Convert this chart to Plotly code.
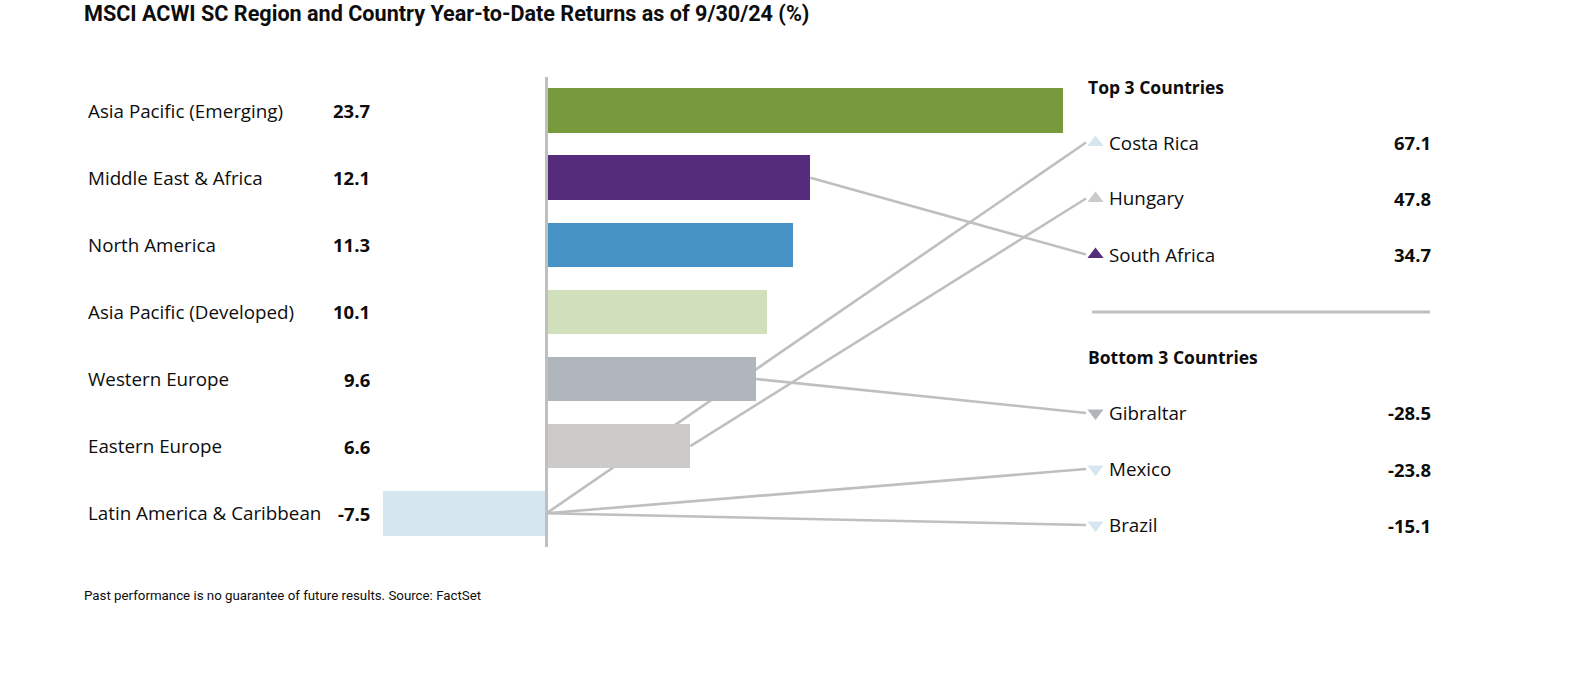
import plotly.graph_objects as go

# ---------------- data ----------------
regions = ["Asia Pacific (Emerging)", "Middle East & Africa", "North America",
           "Asia Pacific (Developed)", "Western Europe", "Eastern Europe",
           "Latin America & Caribbean"]
region_returns = [23.7, 12.1, 11.3, 10.1, 9.6, 6.6, -7.5]
region_colors = ["#789a3d", "#552c7b", "#4793c6", "#d1dfbd", "#b1b5bc", "#cccbca", "#d5e6f0"]

top_countries = ["Costa Rica", "Hungary", "South Africa"]
top_returns = [67.1, 47.8, 34.7]
top_regions = ["Latin America & Caribbean", "Eastern Europe", "Middle East & Africa"]

bottom_countries = ["Gibraltar", "Mexico", "Brazil"]
bottom_returns = [-28.5, -23.8, -15.1]
bottom_regions = ["Western Europe", "Latin America & Caribbean", "Latin America & Caribbean"]

title_text = "MSCI ACWI SC Region and Country Year-to-Date Returns as of 9/30/24 (%)"
footnote_text = "Past performance is no guarantee of future results. Source: FactSet"

# ---------------- layout constants (pixels) ----------------
W, H = 1584, 676
ZERO_PX = 546.5
PX_PER_UNIT = 21.8
ROW0_PX = 110.5
ROW_STEP = 67.13
BAR_FRAC = 0.663

FONT = "Open Sans"
REG_SIZE = 18.8
VAL_SIZE = 18.5
LABEL_X = 86
VALUE_X = 372
PANEL_X = 1086
TRI_X = 1095.5
NAME_X = 1107
PVAL_X = 1433
LINE_END_X = 1086
TOP_HEAD_Y = 87
TOP_ROW_Y = 142.5
BOT_HEAD_Y = 357
BOT_ROW_Y = 413
PANEL_STEP = 56
SEP_Y = 312
GREY = "#bfbfbf"
INK = "#0d0d0d"


def xd(px):
    return (px - ZERO_PX) / PX_PER_UNIT


def yd(py):
    return (py - ROW0_PX) / ROW_STEP


def xp(px):
    return px / W


def yp(py):
    return 1 - py / H


rows = list(range(len(regions)))
row_of = {r: i for i, r in enumerate(regions)}
color_of = dict(zip(regions, region_colors))

fig = go.Figure()

fig.add_trace(go.Bar(
    x=region_returns, y=rows, orientation="h", width=BAR_FRAC,
    marker=dict(color=region_colors, line=dict(width=0)),
    hoverinfo="skip", showlegend=False,
))

shapes = []
annotations = []

# zero axis line
shapes.append(dict(type="line", xref="x", yref="paper", x0=0, x1=0,
                   y0=yp(77), y1=yp(547), line=dict(color=GREY, width=3), layer="above"))

# left labels
for i, (name, val) in enumerate(zip(regions, region_returns)):
    annotations.append(dict(xref="paper", yref="y", x=xp(LABEL_X), y=i, text=name,
                            showarrow=False, xanchor="left", yanchor="middle",
                            font=dict(family=FONT, size=REG_SIZE, color=INK)))
    annotations.append(dict(xref="paper", yref="y", x=xp(VALUE_X), y=i,
                            text="<b>%.1f</b>" % val,
                            showarrow=False, xanchor="right", yanchor="middle",
                            font=dict(family=FONT, size=VAL_SIZE, color=INK)))


def panel(countries, values, regs, head, head_y, row_y, symbol):
    annotations.append(dict(xref="paper", yref="paper", x=xp(PANEL_X), y=yp(head_y),
                            text="<b>%s</b>" % head, showarrow=False,
                            xanchor="left", yanchor="middle",
                            font=dict(family=FONT, size=17.5, color=INK)))
    tx, ty, tc = [], [], []
    for k, (c, v, r) in enumerate(zip(countries, values, regs)):
        py = row_y + k * PANEL_STEP
        annotations.append(dict(xref="paper", yref="paper", x=xp(NAME_X), y=yp(py),
                                text=c, showarrow=False, xanchor="left", yanchor="middle",
                                font=dict(family=FONT, size=REG_SIZE, color=INK)))
        annotations.append(dict(xref="paper", yref="paper", x=xp(PVAL_X), y=yp(py),
                                text="<b>%.1f</b>" % v, showarrow=False,
                                xanchor="right", yanchor="middle",
                                font=dict(family=FONT, size=VAL_SIZE, color=INK)))
        i = row_of[r]
        start = max(region_returns[i], 0)
        shapes.append(dict(type="line", xref="x", yref="y", x0=start, y0=i,
                           x1=xd(LINE_END_X), y1=yd(py),
                           line=dict(color=GREY, width=2.6), layer="below"))
        tx.append(xd(TRI_X))
        ty.append(yd(py))
        tc.append(color_of[r])
    fig.add_trace(go.Scatter(x=tx, y=ty, mode="markers",
                             marker=dict(symbol=symbol, size=14, color=tc, line=dict(width=0)),
                             hoverinfo="skip", showlegend=False))


panel(top_countries, top_returns, top_regions, "Top 3 Countries", TOP_HEAD_Y, TOP_ROW_Y, "triangle-up")
panel(bottom_countries, bottom_returns, bottom_regions, "Bottom 3 Countries", BOT_HEAD_Y, BOT_ROW_Y, "triangle-down")

# separator
shapes.append(dict(type="line", xref="paper", yref="paper", x0=xp(1092), x1=xp(1430),
                   y0=yp(SEP_Y), y1=yp(SEP_Y), line=dict(color=GREY, width=3)))

# title & footnote
annotations.append(dict(xref="paper", yref="paper", x=xp(82), y=yp(13),
                        text="<b>%s</b>" % title_text, showarrow=False,
                        xanchor="left", yanchor="middle",
                        font=dict(family="Roboto", size=21.6, color=INK)))
annotations.append(dict(xref="paper", yref="paper", x=xp(82), y=yp(595),
                        text=footnote_text, showarrow=False,
                        xanchor="left", yanchor="middle",
                        font=dict(family="Roboto", size=13.3, color=INK)))

fig.update_layout(
    width=W, height=H,
    margin=dict(l=0, r=0, t=0, b=0),
    paper_bgcolor="white", plot_bgcolor="white",
    xaxis=dict(range=[xd(0), xd(W)], visible=False, fixedrange=True),
    yaxis=dict(range=[yd(H), yd(0)], visible=False, fixedrange=True),
    shapes=shapes, annotations=annotations,
    bargap=0, hovermode=False, showlegend=False,
)

fig.write_html("out.html", config={"displayModeBar": False},
               post_script="document.body.style.margin='0px';")
